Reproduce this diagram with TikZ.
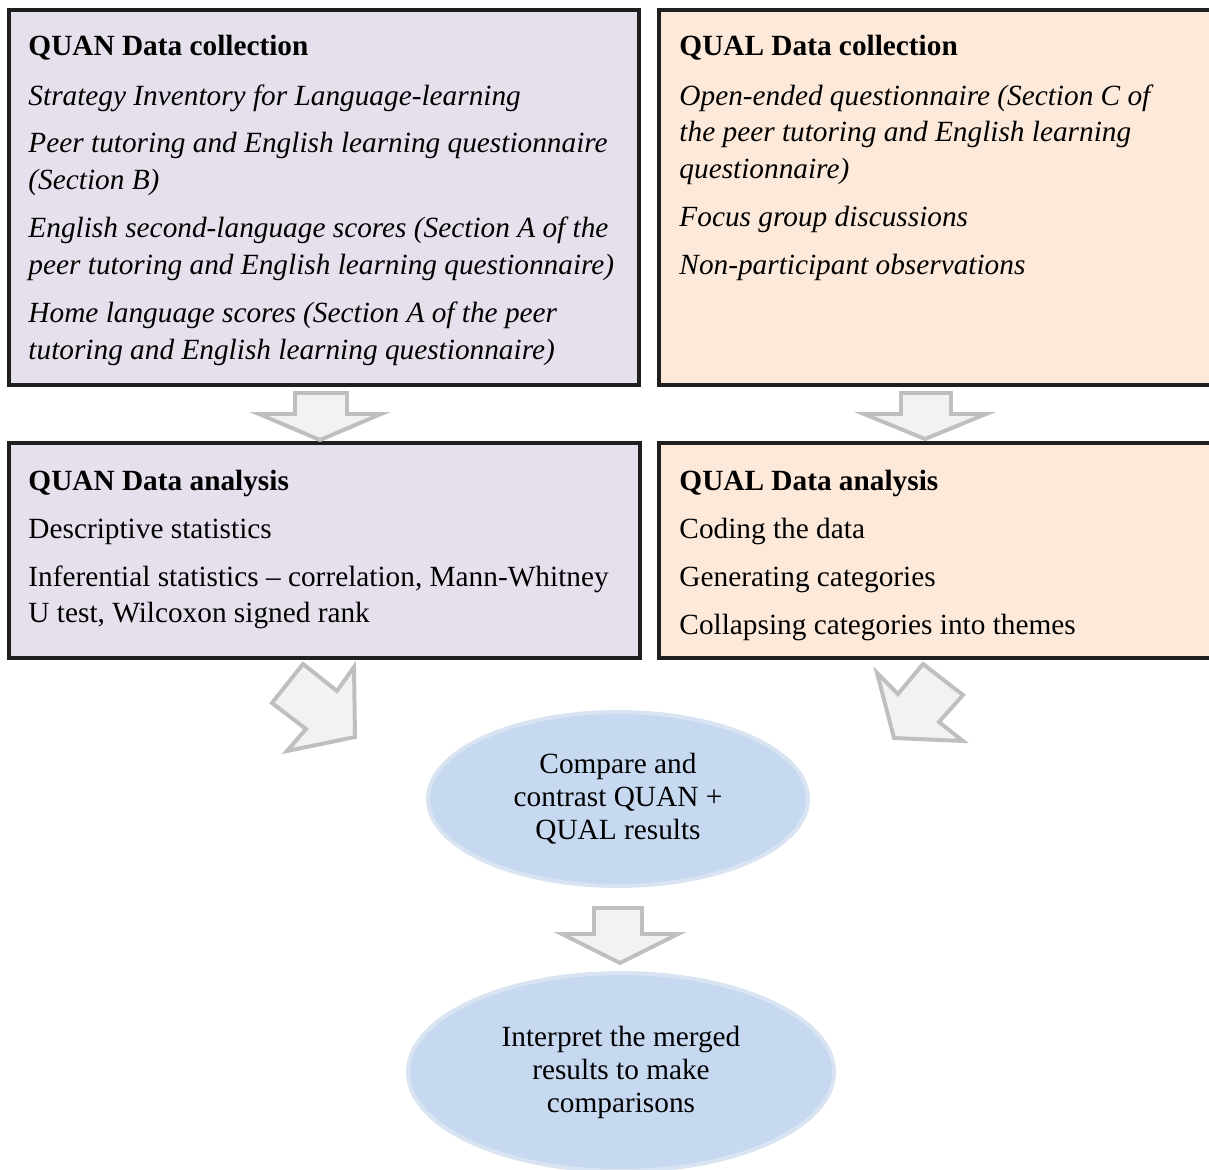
\documentclass[tikz,border=0pt]{standalone}
\usepackage{fontspec}
\setmainfont{Liberation Serif}
\usetikzlibrary{shapes.geometric}
\definecolor{quanfill}{HTML}{E5E0EC}
\definecolor{qualfill}{HTML}{FDE9D9}
\definecolor{ovalfill}{HTML}{C6D9F1}
\definecolor{ovaledge}{HTML}{D9E4F2}
\definecolor{arrowfill}{HTML}{F2F2F2}
\definecolor{arrowedge}{HTML}{BFBFBF}
\definecolor{boxedge}{HTML}{1F1F1F}
\newcommand\bodysize{\fontsize{12.6}{14.2}\selectfont}
\tikzset{
  panel/.style={draw=boxedge, line width=1.3pt},
  line/.style={anchor=base west, inner sep=0pt, font=\bodysize},
  head/.style={line, font=\bodysize\bfseries},
  item/.style={line, font=\bodysize\itshape},
  blockarrow/.style={draw=arrowedge, fill=arrowfill, line width=1.7pt, line join=miter},
  oval/.style={ellipse, fill=ovalfill, draw=ovaledge, line width=1.7pt, inner sep=0pt,
    align=center, font=\bodysize},
}
\begin{document}
\begin{tikzpicture}[x=0.43pt, y=-0.43pt]
\clip (0,0) rectangle (1209,1170);
\fill[white] (0,0) rectangle (1209,1170);

% panels
\filldraw[panel, fill=quanfill] (9,10) rectangle (639,385);
\filldraw[panel, fill=qualfill] (659,10) rectangle (1220,385);
\filldraw[panel, fill=quanfill] (9,443) rectangle (640,658);
\filldraw[panel, fill=qualfill] (659,443) rectangle (1220,658);

% quantitative data collection
\node[head] (quanc) at (28,56) {QUAN Data collection};
\node[item] (qc1) at (28,106) {Strategy Inventory for Language-learning};
\node[item] (qc2) at (28,153) {Peer tutoring and English learning questionnaire};
\node[item] (qc3) at (28,190) {(Section B)};
\node[item] (qc4) at (28,238) {English second-language scores (Section A of the};
\node[item] (qc5) at (28,275) {peer tutoring and English learning questionnaire)};
\node[item] (qc6) at (28,323) {Home language scores (Section A of the peer};
\node[item] (qc7) at (28,360) {tutoring and English learning questionnaire)};

% qualitative data collection
\node[head] (qualc) at (679,56) {QUAL Data collection};
\node[item] (lc1) at (679,106) {Open-ended questionnaire (Section C of};
\node[item] (lc2) at (679,142) {the peer tutoring and English learning};
\node[item] (lc3) at (679,179) {questionnaire)};
\node[item] (lc4) at (679,227) {Focus group discussions};
\node[item] (lc5) at (679,275) {Non-participant observations};

% quantitative analysis
\node[head] (quana) at (28,491) {QUAN Data analysis};
\node[line] (qa1) at (28,538) {Descriptive statistics};
\node[line] (qa2) at (28,586) {Inferential statistics – correlation, Mann-Whitney};
\node[line] (qa3) at (28,622) {U test, Wilcoxon signed rank};

% qualitative analysis
\node[head] (quala) at (679,491) {QUAL Data analysis};
\node[line] (la1) at (679,538) {Coding the data};
\node[line] (la2) at (679,586) {Generating categories};
\node[line] (la3) at (679,634) {Collapsing categories into themes};

% merging stages
\node[oval, minimum width=163.4pt, minimum height=74.8pt] (compare) at (618,799)
  {Compare and\\contrast QUAN +\\QUAL results};
\node[oval, minimum width=183.2pt, minimum height=85.1pt] (interpret) at (621,1072)
  {Interpret the merged\\results to make\\comparisons};

% block arrows
\draw[blockarrow] (295,393) -- (347,393) -- (347,414) -- (381,414) -- (320,440)
  -- (259,414) -- (295,414) -- cycle;
\draw[blockarrow] (901,393) -- (951,393) -- (951,414) -- (986,414) -- (925,439)
  -- (864,414) -- (901,414) -- cycle;
\draw[blockarrow] (303,664) -- (337,691) -- (354,667) -- (355,737) -- (287,751)
  -- (306,729) -- (272,703) -- cycle;
\draw[blockarrow] (923,664) -- (963,695) -- (939,722) -- (963,741) -- (894,738)
  -- (877,673) -- (898,694) -- cycle;
\draw[blockarrow] (594,908) -- (642,908) -- (642,934) -- (678,934) -- (620,963)
  -- (562,934) -- (594,934) -- cycle;
\end{tikzpicture}
\end{document}
